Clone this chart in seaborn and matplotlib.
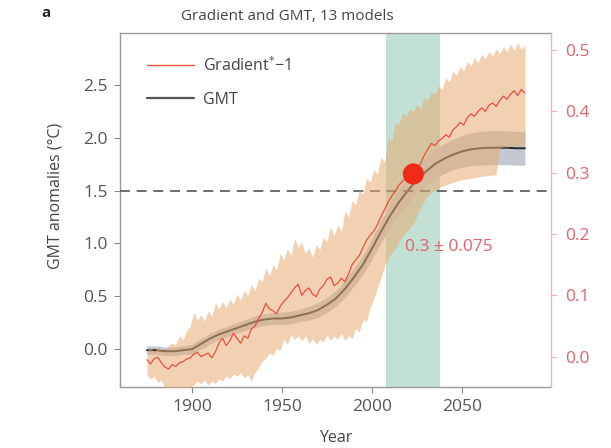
import numpy as np
import pandas as pd
import matplotlib
matplotlib.use("Agg")
import matplotlib.pyplot as plt
import seaborn as sns
from matplotlib.lines import Line2D

# ---------------- data ----------------
grad_years = list(range(1875, 2086, 2))
grad_values = [-0.005,-0.012,-0.003,-0.001,-0.010,-0.017,-0.020,-0.013,-0.016,-0.010,
               -0.008,-0.004,-0.002,0.004,0.007,0.000,0.003,0.006,-0.002,0.008,
               0.022,0.030,0.018,0.026,0.038,0.030,0.022,0.034,0.030,0.045,
               0.050,0.062,0.072,0.087,0.078,0.075,0.070,0.082,0.090,0.096,
               0.104,0.112,0.118,0.100,0.108,0.112,0.102,0.098,0.110,0.116,
               0.126,0.130,0.116,0.120,0.128,0.122,0.135,0.150,0.158,0.165,
               0.178,0.190,0.198,0.205,0.215,0.228,0.240,0.252,0.262,0.270,
               0.280,0.286,0.292,0.297,0.302,0.308,0.315,0.328,0.338,0.348,
               0.344,0.352,0.356,0.362,0.358,0.370,0.375,0.382,0.378,0.390,
               0.396,0.392,0.400,0.406,0.400,0.410,0.414,0.408,0.418,0.425,
               0.420,0.428,0.434,0.426,0.436,0.430]

band_years = list(range(1875, 2086, 2))
band_upper = [0.010,0.014,0.008,0.016,0.012,0.010,0.018,0.022,0.020,0.034,
              0.028,0.042,0.050,0.072,0.060,0.068,0.058,0.075,0.066,0.088,
              0.078,0.090,0.080,0.094,0.085,0.102,0.092,0.108,0.100,0.118,
              0.108,0.128,0.122,0.145,0.132,0.150,0.142,0.168,0.158,0.176,
              0.165,0.192,0.178,0.186,0.168,0.178,0.162,0.182,0.175,0.195,
              0.188,0.212,0.198,0.215,0.205,0.238,0.228,0.255,0.248,0.272,
              0.265,0.292,0.285,0.305,0.298,0.325,0.318,0.358,0.352,0.382,
              0.378,0.398,0.392,0.404,0.400,0.412,0.405,0.422,0.418,0.432,
              0.428,0.442,0.436,0.455,0.448,0.466,0.458,0.474,0.466,0.482,
              0.474,0.488,0.480,0.494,0.486,0.498,0.490,0.502,0.494,0.506,
              0.498,0.510,0.500,0.512,0.502,0.508]
band_lower = [-0.030,-0.036,-0.032,-0.042,-0.038,-0.052,-0.048,-0.060,-0.055,-0.062,
              -0.058,-0.055,-0.050,-0.046,-0.040,-0.044,-0.038,-0.046,-0.040,-0.044,
              -0.036,-0.040,-0.032,-0.036,-0.028,-0.032,-0.026,-0.034,-0.030,-0.040,
              -0.025,-0.018,-0.008,-0.002,0.006,0.002,0.014,0.010,0.028,0.020,
              0.036,0.028,0.034,0.026,0.034,0.022,0.030,0.020,0.028,0.024,
              0.036,0.026,0.034,0.028,0.038,0.026,0.034,0.030,0.046,0.040,
              0.060,0.058,0.080,0.094,0.112,0.128,0.148,0.160,0.170,0.176,
              0.188,0.196,0.204,0.210,0.218,0.230,0.242,0.254,0.262,0.268,
              0.272,0.274,0.278,0.280,0.282,0.284,0.286,0.288,0.289,0.290,
              0.291,0.292,0.293,0.294,0.295,0.296,0.296,0.297,0.340,0.342,
              0.342,0.343,0.344,0.344,0.344,0.344]

gmt_years = [1875,1880,1885,1890,1895,1900,1905,1910,1915,1920,1925,1930,1935,1940,
             1945,1950,1955,1960,1965,1970,1975,1980,1985,1990,1995,2000,2005,2010,
             2015,2020,2025,2030,2035,2040,2045,2050,2055,2060,2065,2070,2075,2080,2085]
gmt_values = [-0.01,-0.01,-0.02,-0.02,-0.01,0.00,0.05,0.10,0.14,0.17,0.20,0.23,0.26,0.28,
              0.29,0.29,0.30,0.32,0.34,0.37,0.42,0.48,0.57,0.68,0.80,0.95,1.11,1.26,
              1.39,1.50,1.60,1.68,1.75,1.80,1.84,1.87,1.89,1.90,1.905,1.905,1.905,1.90,1.90]
gmt_spread = [0.04,0.04,0.04,0.04,0.04,0.045,0.05,0.05,0.05,0.05,0.05,0.05,0.055,0.055,
              0.055,0.06,0.06,0.06,0.065,0.07,0.07,0.075,0.08,0.085,0.09,0.10,0.105,0.11,
              0.115,0.12,0.125,0.13,0.135,0.14,0.145,0.15,0.155,0.16,0.16,0.16,0.16,0.16,0.16]

window = (2008, 2038)          # green period
dot_year, dot_value = 2023, 0.298
threshold = 1.5
annotation = "0.3 ± 0.075"

# ---------------- style ----------------
sns.set_theme(style="white")
plt.rcParams["font.family"] = ["Open Sans", "DejaVu Sans"]
TXT = "#444444"
PINK = "#e2626a"

fig = plt.figure(figsize=(6.11, 4.48), dpi=100)
ax = fig.add_axes([120/611, 61.3/448, 431/611, 353.7/448])
axg = ax.twinx()

# GMT axis (left)
ax.axvspan(window[0], window[1], color="#c2e0d3", lw=0, zorder=0)
gmt_lo = np.array(gmt_values) - np.array(gmt_spread)
gmt_hi = np.array(gmt_values) + np.array(gmt_spread)
ax.fill_between(gmt_years, gmt_lo, gmt_hi, color="#c3c8d3", lw=0, zorder=1)
sns.lineplot(x=gmt_years, y=gmt_values, ax=ax, color="#262626", lw=1.4, zorder=2)
ax.axhline(threshold, color="#555555", lw=1.2, ls=(0, (6, 4)), zorder=3)

# Gradient axis (right)
axg.fill_between(band_years, band_lower, band_upper, color="#e6ac71", alpha=0.55, lw=0, zorder=1)
sns.lineplot(x=grad_years, y=grad_values, ax=axg, color="#e8503f", lw=0.9, zorder=3)
sns.scatterplot(x=[dot_year], y=[dot_value], ax=axg, color="#f02a18", s=230,
                edgecolor="none", zorder=4)
axg.text(2043, 0.179, annotation, color=PINK, fontsize=12.5, ha="center", va="center")

# limits
ax.set_xlim(1860, 2099.5)
ax.set_ylim(-0.355, 2.99)
axg.set_ylim(-0.049, 0.528)

# ticks
ax.set_xticks([1900, 1950, 2000, 2050])
ax.set_yticks([0.0, 0.5, 1.0, 1.5, 2.0, 2.5])
ax.set_yticklabels([f"{v:.1f}" for v in [0.0, 0.5, 1.0, 1.5, 2.0, 2.5]])
axg.set_yticks([0.0, 0.1, 0.2, 0.3, 0.4, 0.5])
axg.set_yticklabels([f"{v:.1f}" for v in [0.0, 0.1, 0.2, 0.3, 0.4, 0.5]])
ax.tick_params(axis="both", which="both", direction="out", length=4, width=0.8,
               colors="#888888", labelcolor="#555555", labelsize=12.5, pad=5,
               left=True, bottom=True)
axg.tick_params(axis="y", direction="out", length=4, width=0.8, colors="#f0b4b8",
                labelcolor=PINK, labelsize=12.5, pad=6, right=True)
ax.set_xlabel("")
ax.set_ylabel("")
axg.set_ylabel("")

for s in ["left", "bottom", "top"]:
    ax.spines[s].set_color("#9a9a9a")
    ax.spines[s].set_linewidth(1.0)
ax.spines["right"].set_visible(False)
for s in ["left", "bottom", "top"]:
    axg.spines[s].set_visible(False)
axg.spines["right"].set_color("#f0b4b8")
axg.spines["right"].set_linewidth(1.0)

# legend
handles = [Line2D([], [], color="#e8503f", lw=1.0),
           Line2D([], [], color="#555555", lw=1.6)]
leg = axg.legend(handles, ["Gradient$^{*}$−1", "GMT"], loc="upper left",
                 bbox_to_anchor=(0.03, 0.975), frameon=False, fontsize=11.5,
                 handlelength=2.9, labelspacing=1.05, handletextpad=0.6)
for t in leg.get_texts():
    t.set_color(TXT)

# texts
fig.text(287/611, 1 - 17/448, "Gradient and GMT, 13 models", ha="center", va="center",
         fontsize=11, color=TXT)
fig.text(46/611, 1 - 13/448, "a", ha="center", va="center", fontsize=11,
         fontweight="bold", color="#222222")
fig.text(56/611, 1 - 196/448, "GMT anomalies (°C)", rotation=90, ha="center",
         va="center", fontsize=11.5, color=TXT)
fig.text(336/611, 1 - 438/448, "Year", ha="center", va="center", fontsize=11.5, color=TXT)

fig.savefig("out.png", dpi=100)
